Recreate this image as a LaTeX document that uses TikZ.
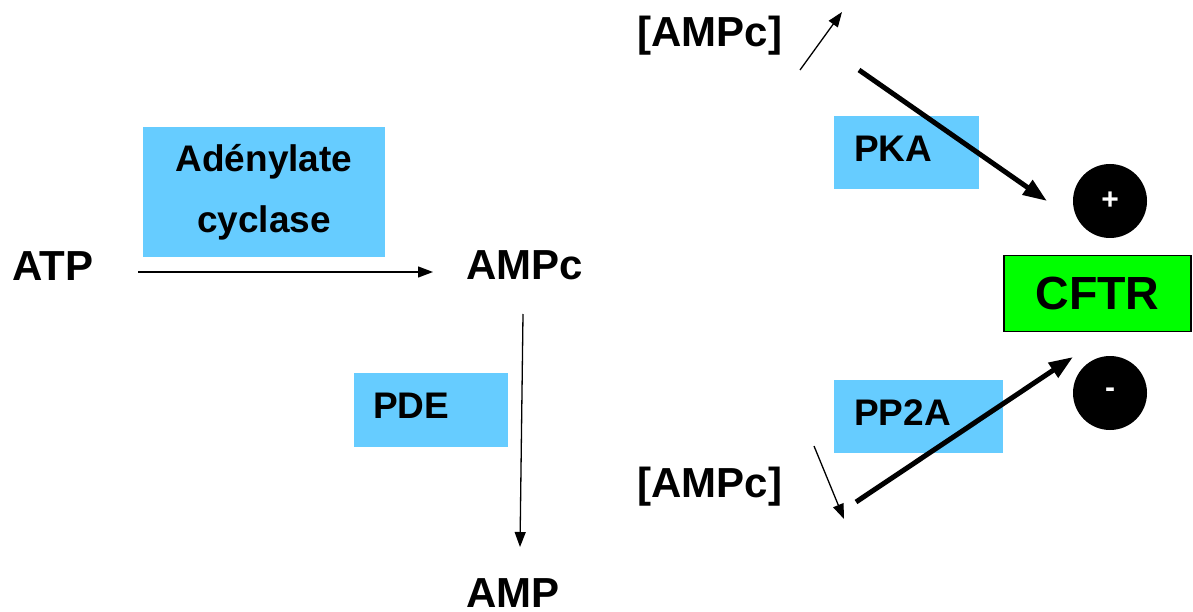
\documentclass[tikz,border=0pt]{standalone}
\usepackage{fontspec}
\setmainfont{Liberation Sans}
\usetikzlibrary{arrows.meta}
\definecolor{boxblue}{RGB}{102,204,255}
\definecolor{cftrgreen}{RGB}{0,255,0}

\begin{document}
\begin{tikzpicture}[x=1pt, y=-1pt, >={Triangle[length=15pt,width=11pt]},
mol/.style={font=\fontsize{42}{50}\selectfont\bfseries, inner sep=0pt, anchor=base},
enz/.style={font=\fontsize{37}{44}\selectfont\bfseries, inner sep=0pt, anchor=base west},
enzbox/.style={fill=boxblue, inner sep=0pt, anchor=north west},
fine/.style={line width=1.3pt, ->},
heavy/.style={line width=5pt, -{Triangle[length=24pt,width=17pt]}},
sign/.style={circle, fill=black, minimum size=74pt, inner sep=0pt, text=white,
  font=\fontsize{30}{34}\selectfont\bfseries}]
\fill[white] (0,0) rectangle (1193,612);
\useasboundingbox (0,0) rectangle (1193,612);

\node[enzbox, minimum width=242pt, minimum height=130pt] (acbox) at (143,127) {};
\node[enzbox, minimum width=154pt, minimum height=74pt] (pdebox) at (354,373) {};
\node[enzbox, minimum width=145pt, minimum height=73pt] (pkabox) at (834,116) {};
\node[enzbox, minimum width=169pt, minimum height=73pt] (pp2abox) at (834,380) {};

\node[enz, anchor=base, align=center, font=\fontsize{37}{61}\selectfont\bfseries] (ac) at (264,233) {Ad\'enylate\\cyclase};
\node[enz] (pde) at (373,418) {PDE};
\node[enz] (pka) at (854,162) {PKA};
\node[enz] (pp2a) at (854,425) {PP2A};

\node[mol] (atp) at (53,280) {ATP};
\node[mol] (ampc) at (525,279) {AMPc};
\node[mol] (amp) at (513,607) {AMP};
\node[mol] (ampcup) at (710,47) {[AMPc]};
\node[mol] (ampcdown) at (710,497) {[AMPc]};

\node[draw=black, line width=1.5pt, fill=cftrgreen, minimum width=187pt, minimum height=76pt,
  inner sep=0pt, font=\fontsize{46.5}{55}\selectfont\bfseries] (cftr) at (1097.5,293.5) {CFTR};
\node[sign] (plus) at (1110,201) {\raisebox{-3pt}{+}};
\node[sign] (minus) at (1110,393) {-};

\coordinate (atpout) at (138,272);
\coordinate (ampcin) at (433,272);
\coordinate (ampcout) at (523,314);
\coordinate (ampin) at (520,547);
\coordinate (risefrom) at (800,70);
\coordinate (riseto) at (842,12);
\coordinate (fallfrom) at (814,446);
\coordinate (fallto) at (844,519);
\coordinate (pkafrom) at (859,70);
\coordinate (pkato) at (1047,201);
\coordinate (pp2afrom) at (856,502);
\coordinate (pp2ato) at (1073,357);

\draw[fine] (atpout) -- (ampcin);
\draw[fine] (ampcout) -- (ampin);
\draw[fine] (risefrom) -- (riseto);
\draw[fine] (fallfrom) -- (fallto);
\draw[heavy] (pkafrom) -- (pkato);
\draw[heavy] (pp2afrom) -- (pp2ato);
\end{tikzpicture}
\end{document}
